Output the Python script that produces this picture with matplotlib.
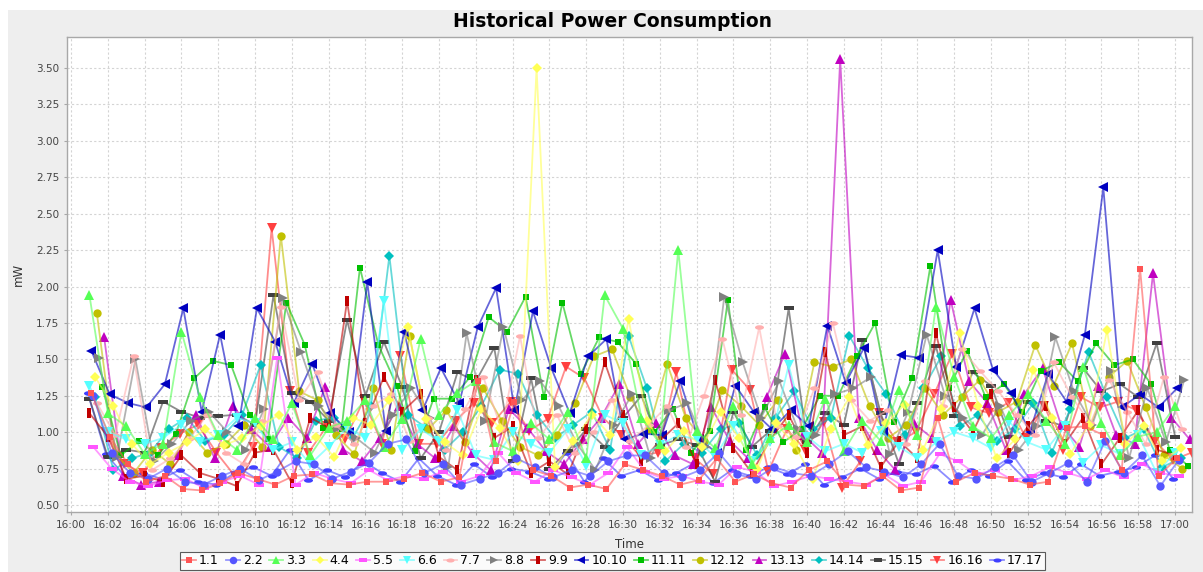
from datetime import datetime, timedelta

import matplotlib
matplotlib.use("Agg")
import matplotlib.pyplot as plt
import matplotlib.dates as mdates
from matplotlib.path import Path
from matplotlib.transforms import Affine2D
from matplotlib.patches import Rectangle

# readings, one per minute per device, starting 16:01 (+ device offset in minutes)
names = ["1.1", "2.2", "3.3", "4.4", "5.5", "6.6", "7.7", "8.8", "9.9", "10.10",
         "11.11", "12.12", "13.13", "14.14", "15.15", "16.16", "17.17"]
offsets = [0.1, 0.2, 0.0, 0.3, 0.2, 0.0, 0.4, 0.5, 0.0, 0.1,
           0.7, 0.4, 0.8, 0.3, 0.0, 0.9, -0.1]

p1_1 = [1.27, 0.97, 0.78, 0.66, 0.70, 0.61, 0.60, 0.65, 0.72, 0.68, 0.64, 0.70, 0.71, 0.65, 0.64,
        0.66, 0.66, 0.68, 0.72, 0.66, 0.69, 1.35, 0.80, 1.21, 0.74, 0.70, 0.62, 0.64, 0.61, 0.78,
        0.74, 0.70, 0.64, 0.67, 0.82, 0.66, 0.71, 0.65, 0.62, 0.74, 0.80, 0.64, 0.63, 0.70, 0.60,
        0.62, 1.10, 0.66, 0.72, 0.70, 0.68, 0.64, 0.66, 1.03, 1.04, 0.98, 0.74, 2.12, 0.70, 0.82]
p2_2 = [1.25, 0.86, 0.72, 0.68, 0.75, 0.66, 0.64, 0.70, 0.75, 0.67, 0.73, 0.80, 0.78, 0.68, 0.73,
        0.79, 0.92, 0.95, 0.72, 0.78, 0.64, 0.68, 0.72, 0.82, 0.76, 0.69, 0.74, 0.70, 0.80, 0.84,
        0.84, 0.72, 0.69, 0.74, 0.86, 0.71, 0.68, 0.76, 0.72, 0.70, 0.78, 0.87, 0.76, 0.73, 0.69,
        0.78, 0.92, 0.70, 0.68, 0.76, 0.84, 0.66, 0.72, 0.79, 0.66, 0.94, 0.72, 0.84, 0.63, 0.81]
p3_3 = [1.94, 1.13, 1.04, 0.85, 0.92, 1.69, 1.24, 0.98, 0.88, 1.10, 0.95, 1.20, 0.84, 1.03, 1.08,
        1.22, 0.90, 1.09, 1.64, 1.12, 1.27, 1.35, 0.93, 0.87, 1.06, 0.95, 1.14, 0.82, 1.94, 1.71,
        1.10, 0.92, 2.25, 1.01, 0.89, 1.18, 0.78, 0.96, 1.05, 0.93, 1.23, 0.87, 1.08, 0.94, 1.29,
        0.98, 1.86, 1.38, 1.04, 0.96, 1.12, 1.26, 1.08, 0.92, 1.45, 1.06, 0.84, 0.97, 1.00, 1.18]
p4_4 = [1.38, 1.18, 0.92, 0.78, 0.86, 0.93, 1.02, 0.91, 0.96, 1.04, 1.12, 0.88, 0.97, 0.83, 1.10,
        1.05, 1.22, 1.72, 1.09, 0.93, 0.84, 1.16, 1.03, 0.80, 3.50, 0.76, 0.94, 1.12, 0.98, 1.78,
        1.08, 0.87, 1.01, 0.90, 1.14, 0.96, 0.75, 1.06, 0.92, 0.68, 1.02, 1.24, 0.91, 1.06, 1.19,
        0.88, 1.16, 1.68, 1.18, 0.82, 0.95, 1.43, 1.10, 0.85, 1.05, 1.70, 0.92, 1.04, 0.80, 0.89]
p5_5 = [0.90, 0.75, 0.66, 0.63, 0.67, 0.68, 0.62, 0.66, 0.70, 0.64, 1.51, 0.64, 0.72, 0.68, 0.65,
        0.74, 0.67, 0.70, 0.68, 0.73, 0.66, 0.70, 0.86, 0.72, 0.66, 0.74, 0.69, 0.64, 0.72, 0.90,
        0.73, 0.68, 0.70, 0.66, 0.64, 0.76, 0.73, 0.63, 0.66, 0.70, 0.68, 0.66, 0.64, 0.71, 0.63,
        0.66, 0.85, 0.80, 0.71, 0.74, 0.67, 0.70, 0.76, 0.72, 0.68, 0.74, 0.69, 0.78, 0.72, 0.70]
p6_6 = [1.32, 1.00, 0.95, 0.92, 0.96, 1.05, 0.93, 0.98, 1.10, 1.06, 0.88, 0.93, 0.78, 0.90, 1.03,
        0.96, 1.90, 0.88, 1.02, 0.94, 1.15, 0.84, 0.81, 1.00, 0.92, 0.86, 1.02, 0.77, 1.12, 1.06,
        0.84, 0.91, 0.98, 0.95, 0.83, 1.04, 0.80, 0.93, 1.46, 0.97, 0.87, 0.92, 0.86, 1.01, 0.90,
        0.82, 0.93, 1.00, 0.96, 0.89, 1.07, 0.93, 0.88, 1.04, 0.79, 0.91, 0.85, 0.98, 0.72, 0.86]
p7_7 = [1.20, 0.98, 1.52, 0.74, 0.82, 0.95, 1.12, 0.86, 0.78, 1.08, 1.86, 1.22, 1.41, 1.05, 0.92,
        1.18, 1.26, 0.94, 1.10, 0.88, 1.16, 1.38, 1.02, 1.66, 0.96, 1.12, 0.86, 1.00, 1.22, 0.94,
        1.05, 1.18, 0.90, 1.25, 1.64, 1.12, 1.72, 1.04, 0.97, 1.30, 1.75, 1.22, 1.08, 1.15, 0.92,
        1.35, 1.18, 1.57, 1.42, 1.28, 1.12, 0.98, 1.48, 1.24, 1.06, 1.36, 1.14, 0.92, 1.38, 1.02]
p8_8 = [1.51, 0.83, 1.50, 0.80, 0.92, 1.08, 1.14, 1.00, 0.88, 1.16, 1.92, 1.55, 1.18, 1.03, 0.96,
        0.86, 1.12, 1.30, 1.10, 0.76, 1.68, 1.08, 1.72, 1.22, 1.35, 1.18, 0.92, 0.74, 1.05, 1.26,
        0.82, 1.15, 1.20, 0.90, 1.93, 1.48, 1.10, 1.35, 1.02, 0.98, 1.26, 1.30, 1.38, 0.85, 1.14,
        1.67, 1.25, 1.10, 0.98, 1.18, 0.88, 1.04, 1.65, 1.28, 1.05, 1.42, 0.82, 1.30, 0.93, 1.36]
p9_9 = [1.13, 0.97, 0.68, 0.70, 0.66, 0.84, 0.72, 0.68, 0.63, 0.86, 0.88, 0.65, 1.10, 1.03, 1.90,
        1.06, 1.38, 1.14, 1.26, 0.83, 0.74, 1.36, 0.96, 1.04, 0.72, 0.80, 0.71, 1.02, 1.48, 1.12,
        0.80, 0.94, 1.06, 0.78, 1.36, 0.89, 0.72, 0.95, 1.12, 0.86, 1.55, 0.98, 1.04, 0.76, 0.94,
        0.82, 1.68, 1.17, 1.00, 1.26, 0.86, 1.04, 1.18, 0.92, 1.10, 0.78, 0.96, 1.15, 0.88, 0.84]
p10_10 = [1.56, 1.26, 1.20, 1.17, 1.33, 1.85, 1.14, 1.67, 1.04, 1.85, 1.62, 1.20, 1.47, 1.13, 1.00,
          2.03, 1.01, 1.69, 1.15, 1.44, 1.20, 1.72, 1.99, 1.15, 1.83, 1.44, 1.13, 1.52, 1.64, 0.95,
          0.99, 0.98, 1.35, 0.95, 0.86, 1.32, 1.14, 1.02, 1.15, 1.04, 1.73, 1.34, 1.58, 1.00, 1.53,
          1.51, 2.25, 1.45, 1.85, 1.43, 1.27, 1.00, 1.40, 1.21, 1.67, 2.68, 1.17, 1.26, 1.17, 1.30]
p11_11 = [1.31, 0.84, 0.94, 0.84, 0.99, 1.37, 1.49, 1.46, 1.12, 0.95, 1.89, 1.60, 1.03, 1.02, 2.13,
          1.60, 1.32, 0.87, 1.23, 1.23, 1.38, 1.79, 1.69, 1.93, 1.24, 1.89, 1.40, 1.65, 1.62, 1.47,
          1.00, 1.16, 0.86, 1.01, 1.91, 0.88, 1.17, 0.93, 1.02, 1.25, 1.25, 1.52, 1.75, 1.07, 1.37,
          2.14, 1.30, 1.56, 1.24, 1.33, 1.14, 1.42, 1.48, 1.35, 1.61, 1.46, 1.50, 1.33, 0.88, 0.77]
p12_12 = [1.82, 0.85, 0.72, 0.88, 0.78, 1.00, 0.86, 0.92, 1.05, 0.90, 2.35, 1.28, 1.22, 0.98, 0.85,
          1.30, 0.88, 1.66, 1.02, 1.15, 0.93, 1.30, 1.08, 0.90, 0.84, 0.98, 1.20, 1.52, 1.57, 1.24,
          1.02, 1.47, 1.10, 0.94, 1.29, 1.18, 1.05, 1.22, 0.88, 1.48, 1.45, 1.50, 1.18, 0.96, 1.05,
          1.30, 1.12, 1.24, 1.36, 1.14, 1.21, 1.60, 1.32, 1.61, 1.04, 1.38, 1.49, 1.17, 0.84, 0.75]
p13_13 = [1.65, 0.70, 0.64, 0.66, 0.84, 1.12, 0.82, 1.18, 1.02, 0.90, 1.10, 0.96, 1.31, 0.88, 0.80,
          0.96, 1.18, 0.92, 0.82, 1.04, 0.86, 0.74, 1.16, 1.03, 0.87, 0.78, 0.95, 1.10, 1.33, 0.92,
          1.06, 0.84, 0.78, 1.17, 0.94, 0.82, 1.24, 1.54, 0.98, 0.86, 3.56, 1.10, 0.88, 0.74, 1.06,
          0.96, 1.91, 1.35, 1.20, 0.88, 1.26, 1.44, 1.05, 0.90, 1.32, 0.98, 0.92, 2.09, 1.10, 0.95]
p14_14 = [1.24, 0.74, 0.82, 0.86, 1.02, 1.10, 0.94, 0.98, 1.12, 1.46, 0.90, 0.82, 1.08, 1.10, 0.96,
          1.18, 2.21, 1.12, 1.03, 0.88, 1.00, 1.18, 1.43, 1.40, 1.12, 0.96, 1.05, 1.14, 0.88, 1.66,
          1.30, 0.80, 0.92, 0.86, 1.02, 1.06, 0.84, 1.10, 1.28, 1.02, 1.10, 1.66, 1.44, 1.26, 0.98,
          1.30, 1.52, 1.04, 1.12, 0.94, 1.02, 1.20, 0.86, 1.16, 1.55, 1.24, 0.96, 1.02, 0.76, 0.82]
p15_15 = [1.23, 0.83, 0.88, 0.86, 1.21, 1.14, 1.10, 1.11, 1.12, 1.05, 1.94, 1.27, 1.21, 1.08, 1.77,
          1.25, 1.62, 1.31, 0.82, 1.00, 1.41, 1.35, 1.58, 0.80, 1.37, 0.75, 0.87, 1.02, 0.90, 1.10,
          1.25, 0.91, 0.95, 0.91, 0.66, 1.14, 0.90, 1.01, 1.85, 0.93, 1.13, 1.05, 1.63, 1.13, 0.78,
          1.20, 1.59, 1.11, 1.41, 1.32, 0.97, 1.21, 1.08, 1.04, 1.44, 1.28, 1.33, 1.24, 1.61, 0.97]
p16_16 = [1.00, 0.78, 0.72, 0.89, 0.99, 1.05, 0.86, 0.70, 0.90, 2.40, 1.28, 0.86, 1.04, 0.95, 1.22,
          0.92, 1.52, 0.92, 0.92, 1.08, 1.20, 1.06, 1.21, 1.01, 1.09, 1.45, 1.37, 1.10, 0.98, 0.84,
          0.86, 1.41, 0.82, 0.71, 1.43, 1.29, 0.73, 1.02, 0.88, 1.07, 0.62, 0.80, 1.13, 0.93, 1.00,
          1.26, 1.54, 1.17, 1.13, 1.20, 0.96, 1.18, 0.88, 1.24, 1.17, 1.21, 1.15, 0.94, 0.81, 0.86]
p17_17 = [1.27, 0.85, 0.70, 0.72, 0.68, 0.74, 0.66, 0.64, 0.72, 0.76, 0.70, 0.88, 0.67, 0.74, 0.69,
          0.80, 0.72, 0.66, 0.82, 0.70, 0.64, 0.78, 0.69, 0.75, 0.73, 0.68, 0.86, 0.66, 0.82, 0.70,
          0.74, 0.67, 0.72, 0.79, 0.65, 0.74, 0.70, 0.76, 0.71, 0.78, 0.64, 0.69, 0.75, 0.68, 0.73,
          0.71, 0.77, 0.66, 0.74, 0.70, 0.80, 0.67, 0.72, 0.69, 0.78, 0.70, 0.73, 0.76, 0.84, 0.68]

readings = [p1_1, p2_2, p3_3, p4_4, p5_5, p6_6, p7_7, p8_8, p9_9, p10_10,
            p11_11, p12_12, p13_13, p14_14, p15_15, p16_16, p17_17]

# default series paint cycle
colors = ["#FF5555", "#5555FF", "#55FF55", "#FFFF55", "#FF55FF", "#55FFFF", "#FFAFAF",
          "#808080", "#C00000", "#0000C0", "#00C000", "#C0C000", "#C000C0", "#00C0C0",
          "#404040", "#FF4040", "#4040FF"]

# series shapes: square, circle, up, diamond, flat rect, down, flat ellipse, right, tall rect, left
hrect = Path([(-1, -0.5), (1, -0.5), (1, 0.5), (-1, 0.5), (-1, -0.5)], closed=True)
vrect = Path([(-0.5, -1), (0.5, -1), (0.5, 1), (-0.5, 1), (-0.5, -1)], closed=True)
hell = Affine2D().scale(1, 0.5).transform_path(Path.unit_circle())
shape_cycle = [("s", 5), ("o", 6), ("^", 6.5), ("D", 5), (hrect, 6.5), ("v", 6.5), (hell, 6.5),
               (">", 6.5), (vrect, 6.5), ("<", 6.5)]

base = datetime(2024, 1, 1, 16, 0)

fig = plt.figure(figsize=(12.03, 5.72), dpi=100, facecolor="white")
fig.patches.append(Rectangle((8 / 1203, 0), 1, 1 - 10 / 572, transform=fig.transFigure,
                             facecolor="#EEEEEE", edgecolor="none", zorder=-10))
ax = fig.add_axes([67 / 1203, 1 - 512 / 572, 1125 / 1203, 475 / 572])
ax.set_facecolor("white")

handles = [None] * len(names)
for i in reversed(range(len(names))):
    vals = readings[i]
    times = [base + timedelta(minutes=1 + k + offsets[i]) for k in range(len(vals))]
    marker, ms = shape_cycle[i % len(shape_cycle)]
    c = matplotlib.colors.to_rgb(colors[i])
    line, = ax.plot(times, vals, color=(*c, 0.6), lw=1.3, marker=marker, ms=ms,
                    mfc=c, mec=c, mew=0, label=names[i])
    handles[i] = line

ax.set_xlim(base - timedelta(minutes=0.22), base + timedelta(minutes=60.92))
ax.set_ylim(0.452, 3.713)
ax.set_yticks([0.5, 0.75, 1.0, 1.25, 1.5, 1.75, 2.0, 2.25, 2.5, 2.75, 3.0, 3.25, 3.5])
ax.yaxis.set_major_formatter(matplotlib.ticker.FormatStrFormatter("%.2f"))
ax.xaxis.set_major_locator(mdates.MinuteLocator(interval=2))
ax.xaxis.set_major_formatter(mdates.DateFormatter("%H:%M"))

ax.grid(True, color="#D4D4D4", lw=0.8, ls=(0, (2, 2)))
ax.set_axisbelow(True)
for sp in ax.spines.values():
    sp.set_color("#A8A8A8")
    sp.set_linewidth(1.0)
ax.tick_params(labelsize=7.5, colors="#444444", length=2.5, width=0.8, pad=3)
ax.tick_params(axis="both", color="#A8A8A8")

ax.set_xlabel("Time", fontsize=8.5, color="#333333", labelpad=6)
ax.set_ylabel("mW", fontsize=8.5, color="#333333", labelpad=8)
fig.text(0.509, 0.962, "Historical Power Consumption", ha="center", va="center",
         fontsize=13.5, fontweight="bold", color="black")

leg = fig.legend(handles=handles, loc="upper center", bbox_to_anchor=(0.509, 0.046),
                 ncol=17, fontsize=9, frameon=True, fancybox=False, handlelength=1.1,
                 handletextpad=0.25, columnspacing=0.55, borderpad=0.2, markerscale=0.9)
leg.get_frame().set_edgecolor("#333333")
leg.get_frame().set_linewidth(0.8)
leg.get_frame().set_facecolor("white")

fig.savefig("out.png", dpi=100, facecolor=fig.get_facecolor())
